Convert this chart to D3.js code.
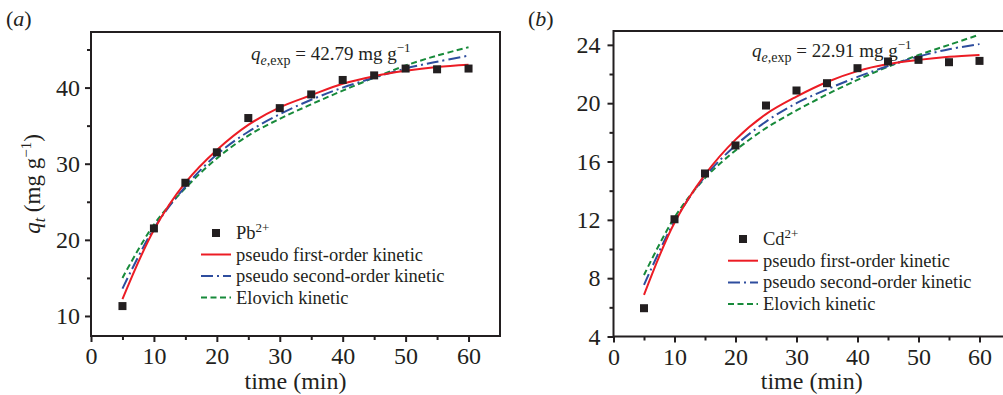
<!DOCTYPE html>
<html>
<head>
<meta charset="utf-8">
<script src="https://cdn.jsdelivr.net/npm/d3@7"></script>
<style>
  html, body { margin: 0; padding: 0; background: #fff; }
  svg { display: block; }
  svg text { font-family: "Liberation Serif", "Times New Roman", Times, serif; }
</style>
</head>
<body>
<svg id="chart" width="1003" height="395"></svg>
<script>
// Contact times (min)
const times = [5, 10, 15, 20, 25, 30, 35, 40, 45, 50, 55, 60];

// Pb2+ uptake q_t (mg/g): measured and fitted kinetic models
const pbMeasured     = [11.3, 21.5, 27.5, 31.5, 36.0, 37.3, 39.1, 41.0, 41.6, 42.5, 42.4, 42.5];
const pbFirstOrder   = [12.2, 21.3, 27.5, 31.8, 35.1, 37.4, 39.0, 40.5, 41.5, 42.2, 42.7, 43.0];
const pbSecondOrder  = [13.6, 21.5, 27.0, 31.2, 34.2, 36.5, 38.4, 40.0, 41.3, 42.5, 43.4, 44.2];
const pbElovich      = [15.0, 22.0, 26.8, 30.7, 33.7, 35.9, 37.8, 39.6, 41.3, 42.9, 44.2, 45.3];

// Cd2+ uptake q_t (mg/g): measured and fitted kinetic models
const cdMeasured     = [5.94, 12.04, 15.18, 17.1, 19.84, 20.87, 21.37, 22.4, 22.86, 22.97, 22.81, 22.9];
const cdFirstOrder   = [6.85, 11.8, 15.1, 17.5, 19.25, 20.45, 21.45, 22.2, 22.68, 22.97, 23.18, 23.31];
const cdSecondOrder  = [7.54, 11.9, 14.97, 17.1, 18.74, 20.0, 20.95, 21.8, 22.55, 23.2, 23.7, 24.05];
const cdElovich      = [8.22, 12.16, 14.86, 16.76, 18.29, 19.5, 20.6, 21.6, 22.5, 23.3, 24.0, 24.7];

// Axis ticks
const xMajorTicks = [0, 10, 20, 30, 40, 50, 60];
const xMinorTicks = [5, 15, 25, 35, 45, 55];
const pbMajorTicks = [10, 20, 30, 40];
const pbMinorTicks = [15, 25, 35, 45];
const cdMajorTicks = [4, 8, 12, 16, 20, 24];
const cdMinorTicks = [6, 10, 14, 18, 22];

// Legend entries
const legendLabels = ["pseudo first-order kinetic", "pseudo second-order kinetic", "Elovich kinetic"];

const colors = { first: "#ec1c24", second: "#2e4d9e", elovich: "#178a3a", ink: "#231f20" };
const dashes = { first: null, second: "12,4,2,4", elovich: "6,3.5" };
const serif = "'Liberation Serif', 'Times New Roman', Times, serif";

const svg = d3.select("#chart");

function drawPanel(p) {
  const x = d3.scaleLinear().domain([0, 65]).range([p.left, p.right]);
  const y = d3.scaleLinear().domain(p.yDomain).range([p.bottom, p.top]);
  const g = svg.append("g");

  // clip so curves stay inside the frame
  const clipId = "clip-" + p.id;
  g.append("clipPath").attr("id", clipId)
    .append("rect").attr("x", p.left).attr("y", p.top)
    .attr("width", p.right - p.left).attr("height", p.bottom - p.top);

  // bottom axis
  g.append("g").attr("transform", `translate(0,${p.bottom})`)
    .call(d3.axisBottom(x).tickValues(xMajorTicks).tickSize(6).tickPadding(5).tickFormat(d3.format("d")));
  g.append("g").attr("transform", `translate(0,${p.bottom})`)
    .call(d3.axisBottom(x).tickValues(xMinorTicks).tickSize(4).tickFormat(""));

  // left axis
  g.append("g").attr("transform", `translate(${p.left},0)`)
    .call(d3.axisLeft(y).tickValues(p.yMajor).tickSize(6).tickPadding(p.yPad).tickFormat(d3.format("d")));
  g.append("g").attr("transform", `translate(${p.left},0)`)
    .call(d3.axisLeft(y).tickValues(p.yMinor).tickSize(4).tickFormat(""));

  g.selectAll(".domain").remove();
  g.selectAll(".tick line").attr("stroke", colors.ink).attr("stroke-width", 2);
  g.selectAll(".tick text").attr("fill", colors.ink)
    .attr("font-family", serif).attr("font-size", 24);

  // frame
  g.append("rect").attr("x", p.left).attr("y", p.top)
    .attr("width", p.right - p.left).attr("height", p.bottom - p.top)
    .attr("fill", "none").attr("stroke", colors.ink).attr("stroke-width", 2);

  // fitted curves
  const line = d3.line()
    .x((d, i) => x(times[i]))
    .y(d => y(d))
    .curve(d3.curveCatmullRom.alpha(0.5));

  const curves = g.append("g").attr("clip-path", `url(#${clipId})`);
  [["elovich", p.elovich], ["second", p.second], ["first", p.first]].forEach(([k, vals]) => {
    curves.append("path").datum(vals)
      .attr("d", line)
      .attr("fill", "none")
      .attr("stroke", colors[k])
      .attr("stroke-width", 2)
      .attr("stroke-dasharray", dashes[k]);
  });

  // measured points
  const s = 8;
  g.append("g").selectAll("rect").data(p.measured).join("rect")
    .attr("x", (d, i) => x(times[i]) - s / 2)
    .attr("y", d => y(d) - s / 2)
    .attr("width", s).attr("height", s)
    .attr("fill", colors.ink);

  // equilibrium annotation
  const ann = g.append("text")
    .attr("x", p.annX).attr("y", p.annY)
    .attr("font-size", 19).attr("fill", colors.ink);
  ann.append("tspan").attr("font-style", "italic").text("q");
  const sub = ann.append("tspan").attr("dy", 5).attr("font-size", 14);
  sub.append("tspan").attr("font-style", "italic").text("e");
  sub.append("tspan").text(",exp");
  ann.append("tspan").attr("dy", -5).text(` = ${p.qe} mg g`);
  ann.append("tspan").attr("dy", -8).attr("font-size", 13).text("\u22121");

  // legend
  const lg = g.append("g");
  lg.append("rect").attr("x", p.legX + 15 - 4).attr("y", p.legY - 4)
    .attr("width", s).attr("height", s).attr("fill", colors.ink);
  const ion = lg.append("text").attr("x", p.legX + 35).attr("y", p.legY + 6)
    .attr("font-size", 18.5).attr("fill", colors.ink);
  ion.append("tspan").text(p.ion);
  ion.append("tspan").attr("dy", -7).attr("font-size", 13).text("2+");

  ["first", "second", "elovich"].forEach((k, i) => {
    const yy = p.legY + p.legStep * (i + 1);
    lg.append("line").attr("x1", p.legX).attr("x2", p.legX + 30)
      .attr("y1", yy).attr("y2", yy)
      .attr("stroke", colors[k]).attr("stroke-width", 2)
      .attr("stroke-dasharray", dashes[k]);
    lg.append("text").attr("x", p.legX + 35).attr("y", yy + 6)
      .attr("font-size", 18.5).attr("fill", colors.ink)
      .text(legendLabels[i]);
  });

  // x-axis title
  g.append("text").attr("x", x(32.5)).attr("y", 389)
    .attr("text-anchor", "middle").attr("font-size", 24).attr("fill", colors.ink)
    .text("time (min)");

  // panel tag
  const tag = svg.append("text").attr("x", p.tagX).attr("y", 26)
    .attr("font-size", 22).attr("fill", colors.ink);
  tag.append("tspan").text("(");
  tag.append("tspan").attr("font-style", "italic").text(p.id);
  tag.append("tspan").text(")");
}

drawPanel({
  id: "a", left: 91, right: 500, top: 32, bottom: 336,
  yDomain: [7.37, 47.3], yMajor: pbMajorTicks, yMinor: pbMinorTicks, yPad: 5,
  measured: pbMeasured, first: pbFirstOrder, second: pbSecondOrder, elovich: pbElovich,
  qe: "42.79", annX: 251, annY: 60, ion: "Pb",
  legX: 201, legY: 233, legStep: 21.5, tagX: 6
});

drawPanel({
  id: "b", left: 613.5, right: 1010, top: 31, bottom: 336.5,
  yDomain: [4, 24.95], yMajor: cdMajorTicks, yMinor: cdMinorTicks, yPad: 7,
  measured: cdMeasured, first: cdFirstOrder, second: cdSecondOrder, elovich: cdElovich,
  qe: "22.91", annX: 752, annY: 57, ion: "Cd",
  legX: 728, legY: 239, legStep: 21.7, tagX: 528
});

// y-axis title for the left panel
const yt = svg.append("text")
  .attr("transform", "translate(40,184) rotate(-90)")
  .attr("text-anchor", "middle")
  .attr("font-size", 23).attr("fill", colors.ink);
yt.append("tspan").attr("font-style", "italic").text("q");
yt.append("tspan").attr("dy", 5).attr("font-style", "italic").attr("font-size", 16).text("t");
yt.append("tspan").attr("dy", -5).text(" (mg g");
yt.append("tspan").attr("dy", -9).attr("font-size", 15).text("\u22121");
yt.append("tspan").attr("dy", 9).text(")");
</script>
</body>
</html>
